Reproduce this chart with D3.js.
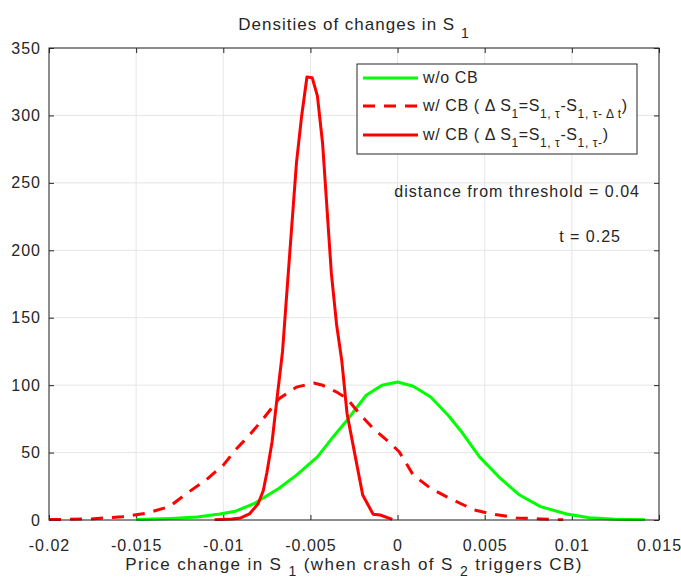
<!DOCTYPE html>
<html>
<head>
<meta charset="utf-8">
<script src="https://cdn.jsdelivr.net/npm/d3@7"></script>
<style>
  body { margin: 0; background: #fff; }
  text { font-family: "Liberation Sans", Arial, Helvetica, sans-serif; fill: #262626; letter-spacing: 1px; }
</style>
</head>
<body>
<div id="vis"></div>
<script>
const width = 681;
const height = 583;

// x ticks and labels
const xTicks = [-0.02, -0.015, -0.01, -0.005, 0, 0.005, 0.01, 0.015];
const xTickLabels = ["-0.02", "-0.015", "-0.01", "-0.005", "0", "0.005", "0.01", "0.015"];
const yTicks = [0, 50, 100, 150, 200, 250, 300, 350];

// w/o CB
const noCbX = [-0.0150, -0.0130, -0.0115, -0.0102, -0.0093, -0.0082, -0.0068, -0.0058, -0.0046, -0.0037,
               -0.0029, -0.0018, -0.0009, 0.0000, 0.0009, 0.0019, 0.0029, 0.0036, 0.0047, 0.0059,
               0.0070, 0.0082, 0.0097, 0.0110, 0.0125, 0.0142];
const noCbY = [0.3, 1.2, 2.2, 4.4, 6.5, 12.4, 23.5, 33.3, 46.8, 61.6,
               74, 92.5, 99.9, 102.3, 99.2, 91.2, 77.7, 66.6, 46.8, 30.8,
               18.5, 9.9, 4.4, 1.7, 0.5, 0.2];

// w/ CB, dS1 = S(1,tau) - S(1,tau-dt)
const cbDtX = [-0.0200, -0.0176, -0.0158, -0.0144, -0.0131, -0.0121, -0.0110, -0.0100, -0.0093, -0.0085,
               -0.0077, -0.0068, -0.0058, -0.0048, -0.0043, -0.0035, -0.0029, -0.0022, -0.0014, -0.0004,
               0.0001, 0.0009, 0.0019, 0.0028, 0.0044, 0.0055, 0.0068, 0.0082, 0.0095];
const cbDtY = [0.3, 0.8, 2.4, 5, 9.9, 19.7, 29.6, 40.7, 52, 62.9,
               75.2, 90, 98.6, 101.6, 99.9, 94.9, 90, 79, 67.9, 56.8,
               50.5, 33.3, 23.5, 17.3, 7.4, 4.2, 1.7, 0.7, 0.1];

// w/ CB, dS1 = S(1,tau) - S(1,tau-)
const cbX = [-0.0105, -0.0095, -0.0090, -0.0085, -0.0080, -0.0077, -0.0075, -0.0072, -0.0069, -0.0066,
             -0.0063, -0.0058, -0.0055, -0.0052, -0.0049, -0.0046, -0.0043, -0.0038, -0.0035, -0.0032,
             -0.0029, -0.0025, -0.0020, -0.0014, -0.0010, -0.0003];
const cbY = [0.2, 0.8, 1.5, 4.5, 12, 22, 35, 58, 92, 125,
             178, 265, 300, 328.5, 328, 314.5, 279, 183, 145, 118,
             79, 52, 18.5, 4.2, 3.7, 0.5];

const margin = { top: 48, right: 22, bottom: 63, left: 49 };
const innerW = width - margin.left - margin.right;
const innerH = height - margin.top - margin.bottom;

const svg = d3.select("#vis").append("svg")
    .attr("width", width)
    .attr("height", height);

const x = d3.scaleLinear().domain([-0.02, 0.015]).range([0, innerW]);
const y = d3.scaleLinear().domain([0, 350]).range([innerH, 0]);

const g = svg.append("g").attr("transform", `translate(${margin.left},${margin.top})`);

// grid
g.append("g").selectAll("line").data(xTicks).enter().append("line")
    .attr("x1", d => x(d)).attr("x2", d => x(d))
    .attr("y1", 0).attr("y2", innerH)
    .attr("stroke", "#e6e6e6").attr("stroke-width", 1);
g.append("g").selectAll("line").data(yTicks).enter().append("line")
    .attr("y1", d => y(d)).attr("y2", d => y(d))
    .attr("x1", 0).attr("x2", innerW)
    .attr("stroke", "#e6e6e6").attr("stroke-width", 1);

// axes (inward ticks, box on)
const axisColor = "#262626";
function styleAxis(sel) {
    sel.select(".domain").remove();
    sel.selectAll(".tick line").attr("stroke", axisColor);
    sel.selectAll(".tick text").style("font-size", "16px").attr("fill", axisColor);
}
g.append("g").attr("transform", `translate(0,${innerH})`)
    .call(d3.axisBottom(x).tickValues(xTicks).tickFormat((d, i) => xTickLabels[i]).tickSizeInner(-5).tickPadding(20))
    .call(styleAxis);
g.append("g")
    .call(d3.axisLeft(y).tickValues(yTicks).tickSizeInner(-5).tickPadding(8))
    .call(styleAxis);
g.append("g")
    .call(d3.axisTop(x).tickValues(xTicks).tickFormat(() => null).tickSizeInner(-5))
    .call(styleAxis);
g.append("g").attr("transform", `translate(${innerW},0)`)
    .call(d3.axisRight(y).tickValues(yTicks).tickFormat(() => null).tickSizeInner(-5))
    .call(styleAxis);

// curves
const line = d3.line().x(d => x(d[0])).y(d => y(d[1]));
const zip = (xs, ys) => xs.map((v, i) => [v, ys[i]]);

g.append("clipPath").attr("id", "clip").append("rect")
    .attr("width", innerW).attr("height", innerH + 2).attr("y", -1);
const curves = g.append("g").attr("clip-path", "url(#clip)");

curves.append("path").datum(zip(noCbX, noCbY))
    .attr("d", line).attr("fill", "none")
    .attr("stroke", "#00ff00").attr("stroke-width", 3).attr("stroke-linejoin", "round");
curves.append("path").datum(zip(cbDtX, cbDtY))
    .attr("d", line).attr("fill", "none")
    .attr("stroke", "#ff0000").attr("stroke-width", 3).attr("stroke-dasharray", "12,9");
curves.append("path").datum(zip(cbX, cbY))
    .attr("d", line).attr("fill", "none")
    .attr("stroke", "#ff0000").attr("stroke-width", 3).attr("stroke-linejoin", "round");

// box
g.append("rect").attr("width", innerW).attr("height", innerH)
    .attr("fill", "none").attr("stroke", axisColor).attr("stroke-width", 1);

// text with subscripts: each part carries its own baseline shift
function richText(sel, parts, size, subSize, k = 0.45) {
    let shift = 0;
    parts.forEach(p => {
        const target = p.sub ? size * k : 0;
        sel.append("tspan")
            .attr("dy", target - shift)
            .style("font-size", (p.sub ? subSize : size) + "px")
            .text(p.sub || p.t);
        shift = target;
    });
}

// title
const title = svg.append("text")
    .attr("x", margin.left + innerW / 2).attr("y", 30)
    .attr("text-anchor", "middle");
richText(title, [{ t: "Densities of changes in S " }, { sub: "1" }], 17, 14);

// x label
const xl = svg.append("text")
    .attr("x", margin.left + innerW / 2).attr("y", 570)
    .attr("text-anchor", "middle").style("letter-spacing", "1.4px");
richText(xl, [{ t: "Price change in S " }, { sub: "1" }, { t: " (when crash of S " }, { sub: "2" }, { t: " triggers CB)" }], 17, 14, 0.38);

// legend
const legend = svg.append("g");
legend.append("rect").attr("x", 357).attr("y", 64).attr("width", 280).attr("height", 90)
    .attr("fill", "#fff").attr("stroke", axisColor).attr("stroke-width", 1);
const legendRows = [
    { y: 78, color: "#00ff00", dash: null,
      parts: [{ t: "w/o CB" }] },
    { y: 106, color: "#ff0000", dash: "12,9",
      parts: [{ t: "w/ CB ( \u0394 S" }, { sub: "1" }, { t: "=S" }, { sub: "1, \u03c4" }, { t: "-S" }, { sub: "1, \u03c4- \u0394 t" }, { t: ")" }] },
    { y: 135, color: "#ff0000", dash: null,
      parts: [{ t: "w/ CB ( \u0394 S" }, { sub: "1" }, { t: "=S" }, { sub: "1, \u03c4" }, { t: "-S" }, { sub: "1, \u03c4-" }, { t: ")" }] }
];
legendRows.forEach(r => {
    legend.append("line").attr("x1", 363).attr("x2", 418).attr("y1", r.y).attr("y2", r.y)
        .attr("stroke", r.color).attr("stroke-width", 3)
        .attr("stroke-dasharray", r.dash);
    const t = legend.append("text").attr("x", 423).attr("y", r.y + 5).style("letter-spacing", "0.6px");
    richText(t, r.parts, 16, 12);
});

// annotations
svg.append("text").attr("x", 640).attr("y", 197).attr("text-anchor", "end")
    .style("font-size", "16px").attr("fill", "#000").text("distance from threshold = 0.04");
svg.append("text").attr("x", 621).attr("y", 242).attr("text-anchor", "end")
    .style("font-size", "16px").attr("fill", "#000").text("t = 0.25");
</script>
</body>
</html>
